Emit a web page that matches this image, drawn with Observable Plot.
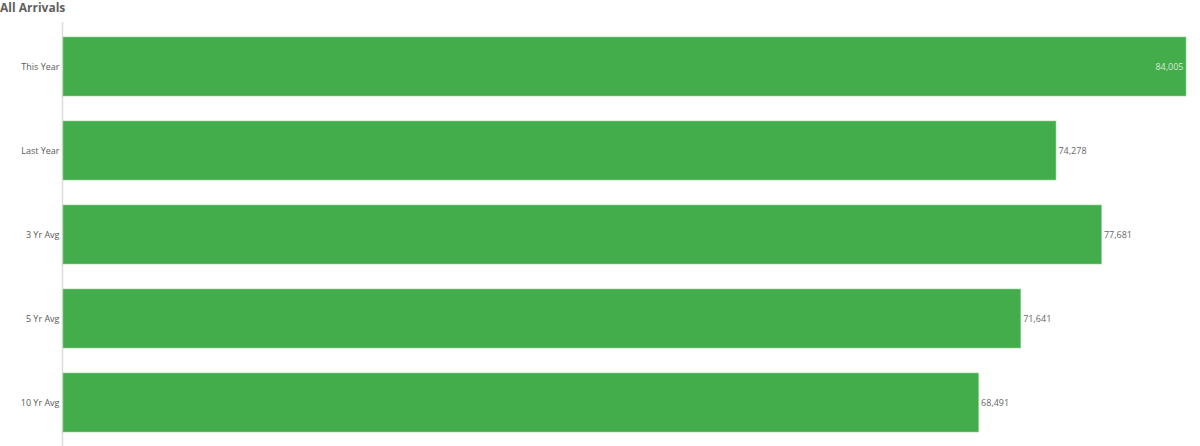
<!DOCTYPE html>
<html><head><meta charset="utf-8">
<script src="https://cdn.jsdelivr.net/npm/d3@7"></script>
<script src="https://cdn.jsdelivr.net/npm/@observablehq/plot@0.6"></script>
<style>
body{margin:0;background:#fff;font-family:"Open Sans",sans-serif;}
#title{height:22px;font-size:12px;font-weight:bold;color:#5f5f5f;line-height:15px;padding-left:0;}
</style></head>
<body>
<div id="title">All Arrivals</div>
<div id="chart"></div>
<script>
const categories = ["This Year","Last Year","3 Yr Avg","5 Yr Avg","10 Yr Avg"];
const values = [84005, 74278, 77681, 71641, 68491];
const data = categories.map((c,i)=>({category:c, value:values[i]}));
const maxV = d3.max(values);
const fmt = d3.format(",");
const chart = Plot.plot({
  width:1200, height:424,
  marginLeft:63, marginRight:14, marginTop:0, marginBottom:0,
  style:{fontFamily:"Open Sans, sans-serif", background:"#fff"},
  x:{domain:[0,maxV], axis:null},
  y:{domain:categories, paddingInner:0.302, paddingOuter:0.16, label:null},
  marks:[
    Plot.ruleX([0],{stroke:"#dcdcdc", strokeWidth:1.5, dx:-1}),
    Plot.barX(data,{y:"category", x:"value", fill:"#43ad4b", stroke:"#8fd093", strokeWidth:0.6}),
    Plot.axisY({tickSize:0, tickPadding:4, fontSize:9, color:"#595959", label:null}),
    Plot.text(data.filter(d=>d.value===maxV),{y:"category", x:"value", text:d=>fmt(d.value), textAnchor:"end", dx:-3, fill:"#d6ecd6", fontSize:9}),
    Plot.text(data.filter(d=>d.value!==maxV),{y:"category", x:"value", text:d=>fmt(d.value), textAnchor:"start", dx:2, fill:"#666", fontSize:9})
  ]
});
document.getElementById("chart").appendChild(chart);
</script>
</body></html>
